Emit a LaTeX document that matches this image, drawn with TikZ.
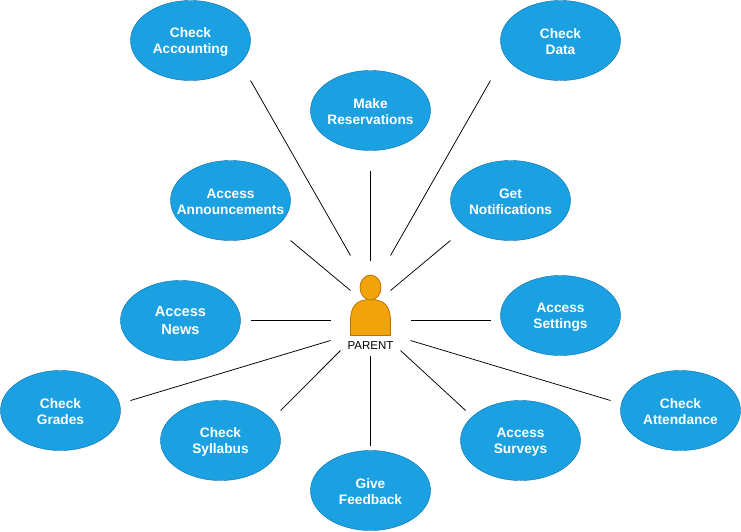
\documentclass[tikz,border=0pt]{standalone}
\usepackage{xcolor}
\usepackage{fontspec}
\setmainfont{Liberation Sans}
\usetikzlibrary{shapes.geometric}
\definecolor{usecaseblue}{HTML}{1BA1E2}
\definecolor{usecaseedge}{HTML}{006EAF}
\definecolor{actororange}{HTML}{F0A30A}
\definecolor{actoredge}{HTML}{BD7000}
\tikzset{
  line/.style={draw=black, line width=0.75pt},
  usecase/.style={
    ellipse,
    draw=usecaseedge,
    fill=usecaseblue,
    text=white,
    align=center,
    inner xsep=-40pt,
    inner ysep=-20pt,
    outer sep=0pt,
    minimum width=120pt,
    minimum height=80pt,
    execute at begin node={\rule{0pt}{29pt}},
    font=\fontsize{13.7}{16}\selectfont\bfseries
  },
  usecasebig/.style={usecase, font=\fontsize{14.6}{18}\selectfont\bfseries},
  actorpart/.style={draw=actoredge, fill=actororange, line width=0.75pt},
  actorzone/.style={minimum width=80pt, minimum height=100pt, inner sep=0pt, outer sep=0pt}
}

\begin{document}
\begin{tikzpicture}[x=1pt,y=-1pt]
  \path[use as bounding box] (-0.5,-0.5) rectangle (740.5,530.5);

  \node[usecase] (accounting) at (190,40) {Check\\Accounting};
  \node[usecase] (data) at (560,40) {Check\\Data};
  \node[usecase] (reservations) at (370,110) {Make\\Reservations};
  \node[usecase] (announcements) at (230,200) {Access\\Announcements};
  \node[usecase] (notifications) at (510,200) {Get\\Notifications};
  \node[usecasebig] (news) at (180,320) {Access\\News};
  \node[usecase] (settings) at (560,315) {Access\\Settings};
  \node[usecase] (grades) at (60,410) {Check\\Grades};
  \node[usecase] (syllabus) at (220,440) {Check\\Syllabus};
  \node[usecase] (feedback) at (370,490) {Give\\Feedback};
  \node[usecase] (surveys) at (520,440) {Access\\Surveys};
  \node[usecase] (attendance) at (680,410) {Check\\Attendance};

  \node[actorzone] (parent) at (370,305) {};
  \node[font=\fontsize{11.5}{13}\selectfont, inner sep=0pt] (parentlabel) at (370,345) {PARENT};

  % actor figure
  \draw[actorpart] (350,335) -- (350,321)
    .. controls (350,306) and (355.5,299) .. (370,299)
    .. controls (384.5,299) and (390,306) .. (390,321)
    -- (390,335) -- cycle;
  \draw[actorpart] (370,287) ellipse [x radius=10.5, y radius=12.5];

  \draw[line] ([shift={(17.6,11.7)}]accounting.south east) -- ([shift={(20,0)}]parent.north west);
  \draw[line] ([shift={(-27.6,11.7)}]data.south west) -- ([shift={(-20,0)}]parent.north east);
  \draw[line] ([shift={(0,20)}]reservations.south) -- ([shift={(0,5)}]parent.north);
  \draw[line] ([shift={(17.6,11.7)}]announcements.south east) -- ([shift={(20,-15)}]parent.west);
  \draw[line] ([shift={(-17.6,11.7)}]notifications.south west) -- ([shift={(-20,-15)}]parent.east);
  \draw[line] ([shift={(10,0)}]news.east) -- ([shift={(0,15)}]parent.west);
  \draw[line] ([shift={(-10,5)}]settings.west) -- ([shift={(0,15)}]parent.east);
  \draw[line] ([shift={(10,-10)}]grades.east) -- ([shift={(0,-15)}]parent.south west);
  \draw[line] ([shift={(17.6,-1.7)}]syllabus.north east) -- ([shift={(10,-5)}]parent.south west);
  \draw[line] ([shift={(0,-5)}]feedback.north) -- (parent.south);
  \draw[line] ([shift={(-12.4,-1.7)}]surveys.north west) -- ([shift={(-10,-5)}]parent.south east);
  \draw[line] ([shift={(-10,-10)}]attendance.west) -- ([shift={(0,-15)}]parent.south east);
\end{tikzpicture}
\end{document}
